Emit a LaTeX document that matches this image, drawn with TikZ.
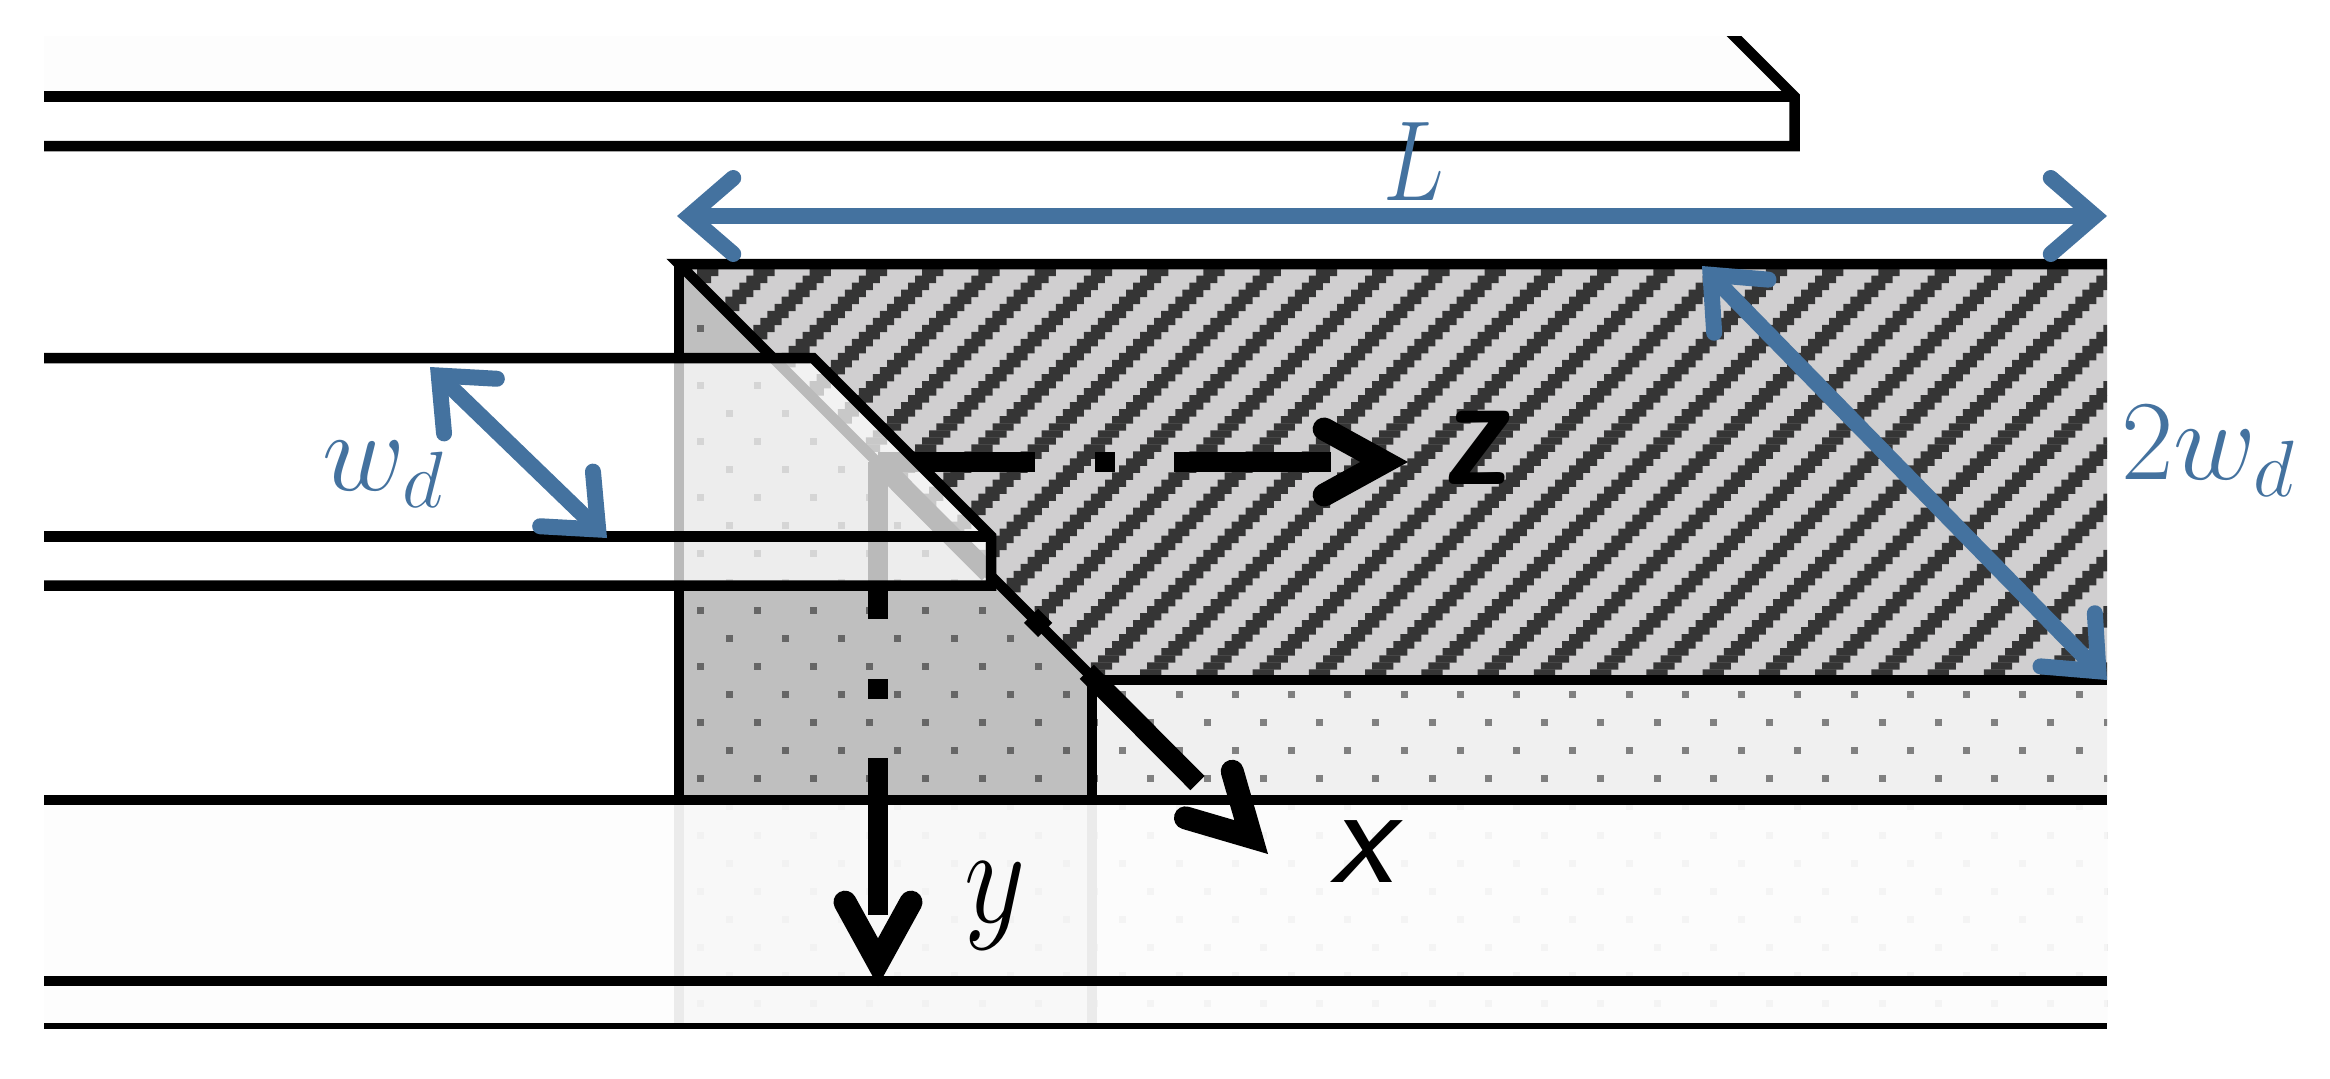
\documentclass[tikz,border=0pt]{standalone}
\usepackage{fix-cm}
\usepackage{amsmath}
\usetikzlibrary{arrows.meta}
\definecolor{dimblue}{HTML}{44729F}
\definecolor{hatchlight}{HTML}{D0CFD0}
\definecolor{hatchdark}{HTML}{353535}
\tikzset{
    edgeline/.style={black,line width=5.25pt,line join=miter},
    axisline/.style={black,line width=10pt,dash pattern=on 78.5pt off 30pt on 10pt off 29.5pt on 78.5pt off 400pt,
        -{Straight Barb[length=30pt,width=33pt,line width=11.5pt,line cap=round,line join=miter]}},
    dimline/.style={dimblue,line width=8pt,
        {Straight Barb[length=22pt,width=38pt,line cap=round,line join=miter]}-{Straight Barb[length=22pt,width=38pt,line cap=round,line join=miter]}},
    dimlabel/.style={text=dimblue,inner sep=0pt,font=\fontsize{57}{60}\selectfont},
    axislabel/.style={text=black,inner sep=0pt}
}
\newcommand{\dotgrid}[1]{
    \foreach \j in {-12,...,14}
        \foreach \k in {-20,...,7}
            \fill[#1] ({1738+mod(\j,2)*28.12+56.25*\k},{691-28.12*\j}) rectangle +(7,7);
}
\begin{document}
\begin{tikzpicture}[x=0.5pt,y=-0.5pt]
    \useasboundingbox (0,0) rectangle (2330,1078);

    \fill[black!0.6] (44,36) -- (1734,36) -- (1794.5,96.5) -- (44,96.5) -- cycle;
    \begin{scope}
        \clip (0,36) rectangle (2330,200);
        \draw[edgeline] (1724,26) -- (1794.5,96.5) -- (1794.5,146) -- (44,146);
        \draw[edgeline] (44,96.5) -- (1794.5,96.5);
    \end{scope}

    \coordinate (cornerA) at (679,264);
    \coordinate (cornerB) at (1092,677);
    \coordinate (origin) at (878,462);

    \fill[hatchlight] (cornerA) -- (2107,264) -- (2107,680) -- (cornerB) -- cycle;
    \begin{scope}
        \clip (cornerA) -- (2107,264) -- (2107,680) -- (cornerB) -- cycle;
        \foreach \r in {-1,...,59}
            \fill[hatchdark] \foreach \s in {-36,...,8} {
                ({1702.7+7.03*\r+56.25*\s},{669.3-7.03*\r}) rectangle +(21.1,7.4)
            };
    \end{scope}

    \fill[black!25] (cornerA) -- (cornerB) -- (1092,1026) -- (679,1026) -- cycle;
    \fill[black!6] (cornerB) -- (2107,680) -- (2107,1026) -- (1092,1026) -- cycle;
    \begin{scope}
        \clip (cornerA) -- (cornerB) -- (1092,1026) -- (679,1026) -- cycle;
        \dotgrid{black!60}
    \end{scope}
    \begin{scope}
        \clip (cornerB) -- (2107,680) -- (2107,1026) -- (1092,1026) -- cycle;
        \dotgrid{black!50}
    \end{scope}

    \draw[edgeline] (cornerB) -- (cornerA) -- (2107,264);
    \draw[edgeline] (1090,680) -- (2107,680);
    \draw[edgeline] (679,264) -- (679,1026);
    \draw[edgeline] (1092,677) -- (1092,1026);

    \fill[black!0.8,opacity=0.93] (44,800) rectangle (2107,1026);
    \draw[edgeline] (44,800) -- (2107,800);
    \draw[edgeline] (44,981) -- (2107,981);
    \draw[edgeline,line width=3pt] (44,1025.5) -- (2107,1025.5);

    \coordinate (xEnd) at (1268,854);
    \coordinate (yEnd) at (878,986);
    \coordinate (zEnd) at (1408,462);
    \draw[axisline] (origin) -- (xEnd);
    \draw[axisline] (origin) -- (yEnd);
    \draw[axisline] (origin) -- (zEnd);

    \fill[white,opacity=0.73] (44,358) -- (813,358) -- (991,536) -- (991,585.5) -- (44,585.5) -- cycle;
    \draw[edgeline] (44,358) -- (813,358) -- (991,536) -- (991,585.5) -- (44,585.5);
    \draw[edgeline] (44,536.5) -- (991,536.5);

    \coordinate (lengthLeft) at (677,216);
    \coordinate (lengthRight) at (2107,216);
    \coordinate (wideTop) at (1702,266);
    \coordinate (wideBottom) at (2107,680);
    \coordinate (guideTop) at (430,367);
    \coordinate (guideBottom) at (607,538);
    \draw[dimline] (lengthLeft) -- (lengthRight);
    \draw[dimline] (wideTop) -- (wideBottom);
    \draw[dimline] (guideTop) -- (guideBottom);

    \node[dimlabel,xscale=0.8] (lengthLabel) at (1414,162) {$L$};
    \node[dimlabel] (guideLabel) at (383,474) {$w_d$};
    \node[dimlabel] (wideLabel) at (2208,451) {$2w_d$};
    \node[axislabel,xscale=0.85,xslant=0.1,font=\fontsize{80}{85}\selectfont\sffamily\bfseries] (zLabel) at (1480,448) {z};
    \node[axislabel,xscale=0.85,font=\fontsize{70}{75}\selectfont] (yLabel) at (995,906) {$y$};
    \node[axislabel,font=\fontsize{72}{75}\selectfont\sffamily\slshape] (xLabel) at (1362,852) {x};
\end{tikzpicture}
\end{document}
